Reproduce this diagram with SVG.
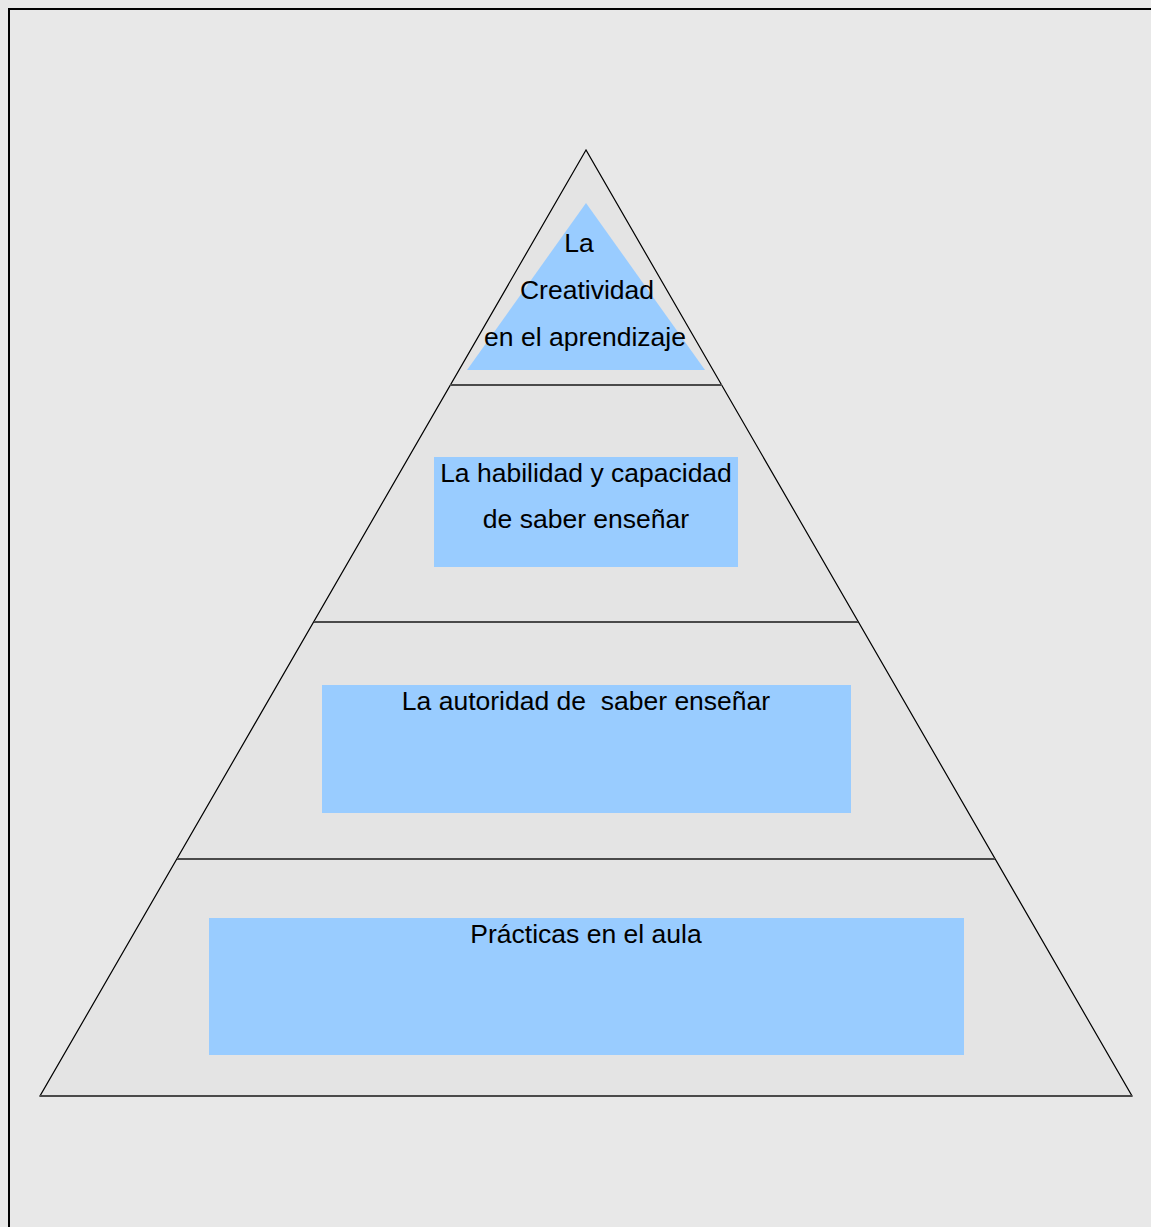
<svg xmlns="http://www.w3.org/2000/svg" width="1151" height="1227" viewBox="0 0 1151 1227">
<style>
.t{font-family:"Liberation Sans",Arial,sans-serif;font-size:26.5px;fill:#000;text-anchor:middle}
.box{fill:#99ccff}
.div{stroke:#4a4a4a;stroke-width:2.2}
</style>
<rect x="0" y="0" width="1151" height="1227" fill="#e8e8e8"/>
<rect x="9" y="9" width="1160" height="1240" fill="#e8e8e8" stroke="#000" stroke-width="2"/>
<g id="pyramid">
<polygon points="586,150 40,1096 1132,1096" fill="#e4e4e4" stroke="#000" stroke-width="1.2"/>
</g>
<g id="connectors">
<line class="div" x1="450" y1="385" x2="722" y2="385"/>
<line class="div" x1="314" y1="622" x2="858" y2="622"/>
<line class="div" x1="177" y1="859" x2="995" y2="859"/>
<line class="div" x1="40" y1="1096" x2="1132" y2="1096"/>
</g>
<g id="n1">
<polygon class="box" points="586,203 467,370 705,370"/>
<text class="t" x="579" y="252">La</text>
<text class="t" x="587" y="299">Creatividad</text>
<text class="t" x="585" y="346">en el aprendizaje</text>
</g>
<g id="n2">
<rect class="box" x="434" y="457" width="304" height="110"/>
<text class="t" x="586" y="482">La habilidad y capacidad</text>
<text class="t" x="586" y="528">de saber enseñar</text>
</g>
<g id="n3">
<rect class="box" x="322" y="685" width="529" height="128"/>
<text class="t" x="586" y="710" xml:space="preserve">La autoridad de  saber enseñar</text>
</g>
<g id="n4">
<rect class="box" x="209" y="918" width="755" height="137"/>
<text class="t" x="586" y="943">Prácticas en el aula</text>
</g>
</svg>
